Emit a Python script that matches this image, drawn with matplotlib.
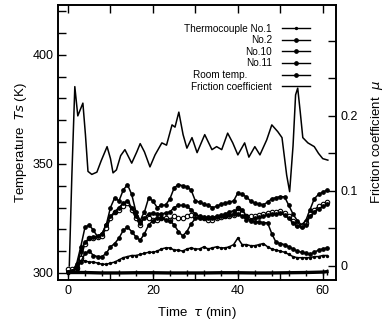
import matplotlib
matplotlib.use("Agg")
from matplotlib import pyplot as plt
from matplotlib.ticker import MultipleLocator, FixedLocator
from matplotlib.lines import Line2D

plt.rcParams['font.family'] = ['Liberation Sans', 'DejaVu Sans']

# time axis for thermocouple readings (min)
t_min = list(range(62))

# thermocouple temperatures (K)
tc_no2 = [300.5, 301, 304, 312, 321, 322, 319.5, 316.5, 318, 322,
          330, 334.5, 333, 338, 340.5, 336, 328, 324, 328, 334.5,
          333, 330, 331, 331.2, 334, 339, 340.5, 340, 339.5, 338,
          333, 332.5, 331.5, 331, 330, 330.5, 331.5, 332, 332.5, 333,
          336.7, 336, 334.9, 333, 332, 331.5, 331.2, 332.5, 334, 334.5,
          335, 334.9, 331, 327, 324, 322, 324, 329, 334, 336,
          337, 338]
tc_no10 = [302, 302, 302.5, 307, 313.5, 316, 316, 316.5, 317, 320.5,
           325, 328, 329, 330.5, 332, 329, 325, 322, 326, 325,
           324.5, 324.5, 325, 325, 324.5, 326, 325, 325, 326, 326.5,
           326, 325.5, 325, 324.5, 324.5, 325, 325.5, 326, 326, 326.5,
           330, 327.5, 326, 326, 326, 326.5, 327, 327.5, 328, 328,
           328.5, 327.5, 326, 324, 322, 321.5, 323, 327, 329, 330.5,
           331.5, 332.5]
tc_other = [300.5, 301, 303, 310, 314, 316, 316.5, 317, 318, 322,
            326, 328, 330, 332, 333, 330, 326, 323, 325, 327,
            327.5, 327, 327, 327.5, 328, 330, 331, 331, 330.5, 329,
            327, 326, 325.5, 325, 325, 325.5, 326, 326, 326.5, 327,
            330, 329, 326, 324, 323.5, 323.5, 323, 323, 318, 314,
            313.5, 313, 312, 311, 310, 309.5, 309, 308.5, 309.5, 310.5,
            311, 311.5]
tc_no11 = [300.5, 301, 302, 305, 309, 310, 308, 307.5, 307.5, 309,
           312, 313.5, 316, 319.5, 321, 319, 316.5, 315, 318, 322,
           324, 325, 325, 324.5, 324, 322, 319, 317, 319, 322.5,
           325, 325, 325, 325.5, 325.5, 326, 326.5, 327, 328, 328.5,
           327, 326, 324.5, 324.5, 325, 325.5, 326, 326.5, 327, 327,
           327.5, 326.5, 325, 323, 321.5, 321, 322, 326, 328, 329.5,
           330.5, 331.5]
tc_no1 = [300.5, 301, 303, 306, 305.5, 305, 305, 304.5, 304, 304,
          304.5, 305, 306, 307, 307.5, 308, 308, 308.5, 309, 309.5,
          309.5, 310, 311, 311.5, 311.5, 310.5, 310.5, 310, 311, 311.5,
          311, 311, 312, 311, 311.5, 312, 311.5, 311.5, 312, 313,
          316, 313, 313, 312.5, 312.5, 313, 313.5, 312, 311, 310.5,
          310, 309.5, 308.5, 307.5, 307, 307, 307, 307, 307.5, 307.5,
          308, 308]

t_room = [0, 4, 8, 12, 16, 20, 24, 28, 32, 36, 40, 44, 48, 52, 56, 60, 61]
room = [300.2, 300.2, 300.0, 300.0, 300.1, 300.1, 300.0, 300.0, 300.0,
        300.1, 300.1, 300.0, 300.0, 300.1, 300.2, 300.4, 300.6]

# friction coefficient
t_fric = [0.3, 0.9, 1.6, 2.3, 3.5, 4.1, 4.7, 5.6, 6.8, 7.8, 9.2, 10.0,
          10.6, 11.4, 12.4, 13.4, 14.2, 15.0, 16.2, 17.0, 18.0, 19.3,
          20.5, 22.1, 23.2, 24.5, 25.2, 26.1, 27.1, 28.0, 29.2, 30.4,
          32.2, 33.9, 35.0, 36.2, 37.6, 38.8, 40.0, 41.6, 42.6, 44.0,
          45.2, 46.8, 48.0, 49.4, 50.4, 51.5, 52.2, 53.0, 53.6, 54.1,
          54.7, 55.3, 56.5, 58.0, 59.0, 60.0, 61.2]
mu = [0.0, 0.12, 0.239, 0.200, 0.217, 0.175, 0.126, 0.122, 0.125, 0.14,
      0.159, 0.143, 0.124, 0.128, 0.147, 0.155, 0.146, 0.137, 0.152,
      0.163, 0.152, 0.132, 0.148, 0.164, 0.161, 0.188, 0.185, 0.205,
      0.175, 0.157, 0.171, 0.151, 0.175, 0.155, 0.159, 0.155, 0.177,
      0.164, 0.148, 0.164, 0.145, 0.159, 0.148, 0.168, 0.188, 0.179,
      0.171, 0.121, 0.099, 0.16, 0.228, 0.237, 0.205, 0.171, 0.164,
      0.159, 0.150, 0.143, 0.141]

fig = plt.figure(figsize=(3.87, 3.24), dpi=100)
ax = fig.add_axes([0.150, 0.136, 0.718, 0.849])
ax2 = ax.twinx()

lw = 1.1
ax.plot(t_min, tc_no1, '-', color='k', lw=lw, marker='o', ms=1.4)
ax.plot(t_min, tc_no2, '-', color='k', lw=lw, marker='o', ms=2.4)
ax.plot(t_min, tc_no10, '-', color='k', lw=lw, marker='o', ms=3.2,
        mfc='white', mew=0.8)
ax.plot(t_min, tc_other, '-', color='k', lw=lw, marker='o', ms=2.4)
ax.plot(t_min, tc_no11, '-', color='k', lw=lw, marker='o', ms=2.4)
ax.plot(t_room, room, '-', color='k', lw=2.4, marker='|', ms=4)
ax2.plot(t_fric, mu, '-', color='k', lw=1.1)

ax.set_xlim(-2.35, 63.1)
ax.set_ylim(296.8, 422.9)
ax2.set_ylim(-0.0187, 0.348)

ax.xaxis.set_major_locator(FixedLocator([0, 20, 40, 60]))
ax.xaxis.set_minor_locator(FixedLocator([10, 30, 50]))
ax.yaxis.set_major_locator(FixedLocator([300, 350, 400]))
ax.yaxis.set_minor_locator(MultipleLocator(10))
ax2.yaxis.set_major_locator(FixedLocator([0, 0.1, 0.2]))
ax2.yaxis.set_minor_locator(FixedLocator([0.05, 0.15, 0.25, 0.3]))
ax2.set_yticklabels(['0', '0.1', '0.2'])

for a in (ax, ax2):
    a.tick_params(which='both', direction='in', length=6, width=1,
                  labelsize=9, top=True)
    for s in a.spines.values():
        s.set_linewidth(1.2)

ax.set_xlabel(r'Time  $\tau$ (min)', fontsize=9.5, labelpad=6)
ax.set_ylabel(r'Temperature  $Ts$ (K)', fontsize=9.5, labelpad=2)
ax2.set_ylabel(r'Friction coefficient  $\mu$', fontsize=9.5, labelpad=8)

handles = [
    Line2D([], [], color='k', lw=1, marker='o', ms=1.4),
    Line2D([], [], color='k', lw=1, marker='o', ms=2.4),
    Line2D([], [], color='k', lw=1, marker='o', ms=2.4),
    Line2D([], [], color='k', lw=1, marker='o', ms=2.4),
    Line2D([], [], color='k', lw=1, marker='o', ms=2.4),
    Line2D([], [], color='k', lw=1),
]
labels = ['Thermocouple No.1', 'No.2', 'No.10', 'No.11',
          'Room temp.         ', 'Friction coefficient']
ax.legend(handles, labels, loc='upper right', bbox_to_anchor=(0.925, 0.95),
          frameon=False, markerfirst=False, fontsize=7.2, handlelength=2.8,
          handletextpad=1.0, labelspacing=0.16, borderpad=0)

fig.savefig('out.png', dpi=100)
